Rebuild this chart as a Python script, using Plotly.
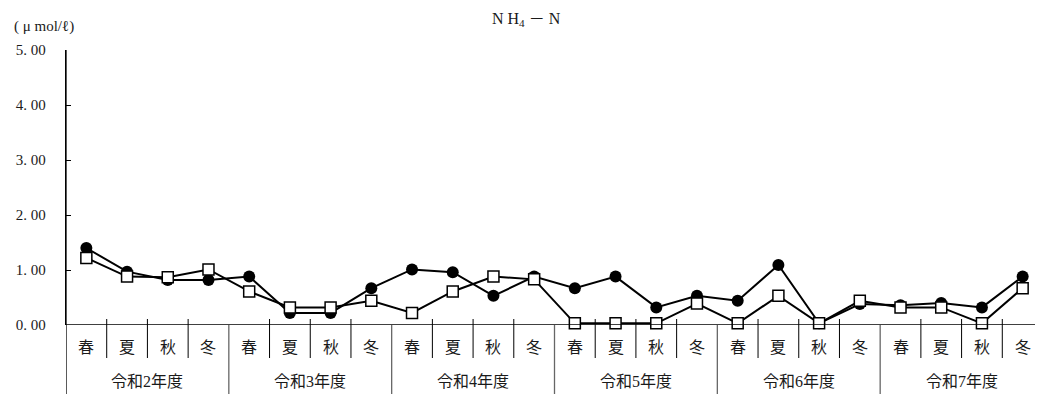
import plotly.graph_objects as go

seasons = ["春", "夏", "秋", "冬"]
years = ["令和2年度", "令和3年度", "令和4年度", "令和5年度", "令和6年度", "令和7年度"]

series_circle = [1.40, 0.97, 0.82, 0.82,
                 0.88, 0.22, 0.22, 0.67,
                 1.01, 0.96, 0.53, 0.88,
                 0.67, 0.88, 0.32, 0.53,
                 0.44, 1.09, 0.03, 0.38,
                 0.36, 0.40, 0.32, 0.88]
series_square = [1.22, 0.88, 0.87, 1.01,
                 0.61, 0.32, 0.32, 0.44,
                 0.22, 0.61, 0.88, 0.83,
                 0.03, 0.03, 0.03, 0.39,
                 0.03, 0.53, 0.03, 0.44,
                 0.32, 0.32, 0.03, 0.67]

y_ticks = [0, 1, 2, 3, 4, 5]
y_ticktext = ["0. 00", "1. 00", "2. 00", "3. 00", "4. 00", "5. 00"]

n = len(series_circle)
xs = list(range(n))

FONT = "Liberation Serif, Noto Sans CJK JP, serif"
TXT = "#1a1a1a"

# figure geometry (page has an 8px body margin)
W, H = 1035, 386
ML, MR, MT, MB = 58, 0, 42, 69
PW = W - ML - MR
PH = H - MT - MB


def py(fig_y):
    """figure-pixel y -> paper y"""
    return (H - MB - fig_y) / PH


def px(fig_x):
    return (fig_x - ML) / PW


fig = go.Figure()
fig.add_trace(go.Scatter(
    x=xs, y=series_circle, mode="lines+markers",
    line=dict(color="black", width=2),
    marker=dict(symbol="circle", size=12, color="black"),
    showlegend=False, cliponaxis=False))
fig.add_trace(go.Scatter(
    x=xs, y=series_square, mode="lines+markers",
    line=dict(color="black", width=2),
    marker=dict(symbol="square", size=11, color="white",
                line=dict(color="black", width=1.5)),
    showlegend=False, cliponaxis=False))

shapes = []
annotations = []
shapes.append(dict(type="line", xref="x", yref="y", x0=-0.5, x1=n - 0.5, y0=0, y1=0,
                   line=dict(color="black", width=1.3)))
shapes.append(dict(type="line", xref="x", yref="paper", x0=-0.5, x1=-0.5, y0=py(H), y1=1,
                   line=dict(color="black", width=1.3)))
for i in range(1, n):
    xb = i - 0.5
    if i % len(seasons) == 0:
        shapes.append(dict(type="line", xref="x", yref="paper", x0=xb, x1=xb,
                           y0=py(H), y1=0,
                           line=dict(color="#666666", width=1.3)))
    else:
        shapes.append(dict(type="line", xref="x", yref="paper", x0=xb, x1=xb,
                           y0=py(H - MB + 33), y1=py(H - MB - 6),
                           line=dict(color="black", width=1)))
for i in range(n):
    annotations.append(dict(x=i, y=py(339), xref="x", yref="paper", text=seasons[i % 4],
                            showarrow=False, font=dict(family=FONT, size=16, color=TXT),
                            yanchor="middle"))
for j, yr in enumerate(years):
    annotations.append(dict(x=j * 4 + 1.5, y=py(373), xref="x", yref="paper", text=yr,
                            showarrow=False, font=dict(family=FONT, size=16, color=TXT),
                            yanchor="middle"))
annotations.append(dict(x=px(4), y=py(19), xref="paper", yref="paper", text="( μ mol/ℓ)",
                        showarrow=False, xanchor="left", yanchor="middle",
                        font=dict(family=FONT, size=15, color=TXT)))
annotations.append(dict(x=px(518), y=py(12), xref="paper", yref="paper",
                        text="N H<sub>4</sub> － N",
                        showarrow=False, xanchor="center", yanchor="middle",
                        font=dict(family=FONT, size=16, color=TXT)))

fig.update_layout(
    width=W, height=H,
    margin=dict(l=ML, r=MR, t=MT, b=MB, autoexpand=False),
    paper_bgcolor="white", plot_bgcolor="white",
    xaxis=dict(range=[-0.5, n - 0.5], showticklabels=False, showgrid=False,
               zeroline=False, showline=False, ticks=""),
    yaxis=dict(range=[0, 5], tickvals=y_ticks, ticktext=y_ticktext, ticks="inside",
               ticklen=5, tickcolor="black", tickwidth=1.3, showgrid=False, zeroline=False,
               showline=True, linecolor="black", linewidth=1.3,
               ticklabelstandoff=16, automargin=False,
               tickfont=dict(family=FONT, size=15, color=TXT)),
    shapes=shapes, annotations=annotations,
)

fig.write_html("out.html")
